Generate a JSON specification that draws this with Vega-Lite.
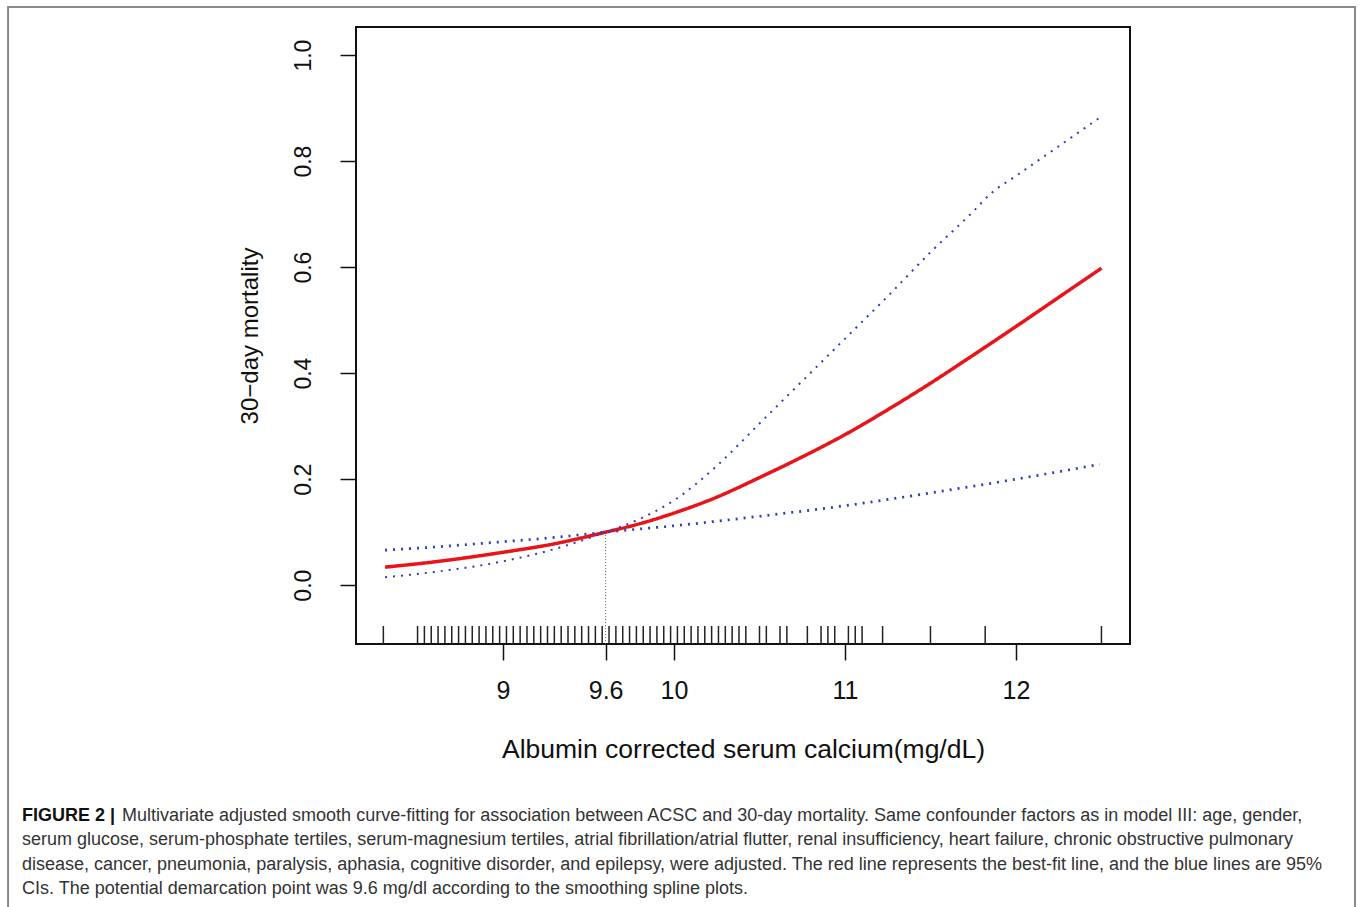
{
  "$schema": "https://vega.github.io/schema/vega-lite/v6.json",
  "width": 774,
  "height": 617,
  "autosize": {"type": "none"},
  "padding": {"left": 356, "top": 27, "right": 230, "bottom": 263},
  "background": "white",
  "config": {
    "view": {"stroke": "#111111", "strokeWidth": 2},
    "axis": {
      "domain": false,
      "grid": false,
      "tickColor": "#111111",
      "tickWidth": 1.5,
      "tickSize": 16,
      "labelFont": "Liberation Sans",
      "labelFontSize": 23,
      "labelColor": "#111111",
      "titleFont": "Liberation Sans",
      "titleFontSize": 24,
      "titleFontWeight": "normal",
      "titleColor": "#111111"
    }
  },
  "title": {
    "text": "FIGURE 2 |",
    "subtitle": [
      "\u200b\u00a0\u00a0\u00a0\u00a0\u00a0\u00a0\u00a0\u00a0\u00a0\u00a0\u00a0\u00a0\u00a0\u00a0\u00a0\u00a0\u00a0\u00a0\u00a0\u00a0Multivariate adjusted smooth curve-fitting for association between ACSC and 30-day mortality. Same confounder factors as in model III: age, gender,",
      "serum glucose, serum-phosphate tertiles, serum-magnesium tertiles, atrial fibrillation/atrial flutter, renal insufficiency, heart failure, chronic obstructive pulmonary",
      "disease, cancer, pneumonia, paralysis, aphasia, cognitive disorder, and epilepsy, were adjusted. The red line represents the best-fit line, and the blue lines are 95%",
      "CIs. The potential demarcation point was 9.6 mg/dl according to the smoothing spline plots."
    ],
    "orient": "bottom",
    "anchor": "start",
    "frame": "group",
    "dx": -334,
    "offset": -109,
    "font": "Liberation Sans",
    "fontSize": 18,
    "fontWeight": "bold",
    "color": "#111111",
    "subtitleFont": "Liberation Sans",
    "subtitleFontSize": 18,
    "subtitleColor": "#333333",
    "subtitleLineHeight": 24.5,
    "subtitlePadding": -18
  },
  "datasets": {
    "curves": [
      {"x": 8.31, "y": 0.034, "series": "fit"},
      {"x": 8.6, "y": 0.044, "series": "fit"},
      {"x": 9.0, "y": 0.062, "series": "fit"},
      {"x": 9.3, "y": 0.078, "series": "fit"},
      {"x": 9.6, "y": 0.1, "series": "fit"},
      {"x": 9.8, "y": 0.116, "series": "fit"},
      {"x": 10.0, "y": 0.136, "series": "fit"},
      {"x": 10.25, "y": 0.166, "series": "fit"},
      {"x": 10.5, "y": 0.203, "series": "fit"},
      {"x": 10.75, "y": 0.242, "series": "fit"},
      {"x": 11.0, "y": 0.284, "series": "fit"},
      {"x": 11.25, "y": 0.331, "series": "fit"},
      {"x": 11.5, "y": 0.381, "series": "fit"},
      {"x": 11.75, "y": 0.434, "series": "fit"},
      {"x": 12.0, "y": 0.488, "series": "fit"},
      {"x": 12.25, "y": 0.543, "series": "fit"},
      {"x": 12.5, "y": 0.598, "series": "fit"},
      {"x": 8.31, "y": 0.066, "series": "ci_a"},
      {"x": 8.6, "y": 0.072, "series": "ci_a"},
      {"x": 9.0, "y": 0.082, "series": "ci_a"},
      {"x": 9.3, "y": 0.09, "series": "ci_a"},
      {"x": 9.6, "y": 0.1, "series": "ci_a"},
      {"x": 9.8, "y": 0.106, "series": "ci_a"},
      {"x": 10.0, "y": 0.112, "series": "ci_a"},
      {"x": 10.5, "y": 0.13, "series": "ci_a"},
      {"x": 11.0, "y": 0.15, "series": "ci_a"},
      {"x": 11.5, "y": 0.174, "series": "ci_a"},
      {"x": 12.0, "y": 0.2, "series": "ci_a"},
      {"x": 12.49, "y": 0.228, "series": "ci_a"},
      {"x": 8.31, "y": 0.015, "series": "ci_b"},
      {"x": 8.6, "y": 0.025, "series": "ci_b"},
      {"x": 9.0, "y": 0.045, "series": "ci_b"},
      {"x": 9.3, "y": 0.068, "series": "ci_b"},
      {"x": 9.6, "y": 0.1, "series": "ci_b"},
      {"x": 9.8, "y": 0.125, "series": "ci_b"},
      {"x": 10.0, "y": 0.16, "series": "ci_b"},
      {"x": 10.25, "y": 0.225, "series": "ci_b"},
      {"x": 10.5, "y": 0.305, "series": "ci_b"},
      {"x": 10.75, "y": 0.385, "series": "ci_b"},
      {"x": 11.0, "y": 0.465, "series": "ci_b"},
      {"x": 11.25, "y": 0.545, "series": "ci_b"},
      {"x": 11.5, "y": 0.628, "series": "ci_b"},
      {"x": 11.75, "y": 0.705, "series": "ci_b"},
      {"x": 11.85, "y": 0.738, "series": "ci_b"},
      {"x": 12.0, "y": 0.772, "series": "ci_b"},
      {"x": 12.25, "y": 0.828, "series": "ci_b"},
      {"x": 12.49, "y": 0.882, "series": "ci_b"}
    ],
    "rug": [
      {"v": 8.30}, {"v": 8.50}, {"v": 8.54}, {"v": 8.58}, {"v": 8.62}, {"v": 8.66}, {"v": 8.70}, {"v": 8.74}, {"v": 8.78}, {"v": 8.82},
      {"v": 8.86}, {"v": 8.90}, {"v": 8.94}, {"v": 8.98}, {"v": 9.02}, {"v": 9.06}, {"v": 9.10}, {"v": 9.14}, {"v": 9.18}, {"v": 9.22},
      {"v": 9.26}, {"v": 9.30}, {"v": 9.34}, {"v": 9.38}, {"v": 9.42}, {"v": 9.46}, {"v": 9.50}, {"v": 9.54}, {"v": 9.58}, {"v": 9.62},
      {"v": 9.66}, {"v": 9.70}, {"v": 9.74}, {"v": 9.78}, {"v": 9.82}, {"v": 9.86}, {"v": 9.90}, {"v": 9.94}, {"v": 9.98}, {"v": 10.02},
      {"v": 10.06}, {"v": 10.10}, {"v": 10.14}, {"v": 10.18}, {"v": 10.22}, {"v": 10.26}, {"v": 10.30}, {"v": 10.34}, {"v": 10.38}, {"v": 10.42},
      {"v": 10.50}, {"v": 10.54}, {"v": 10.62}, {"v": 10.66}, {"v": 10.78}, {"v": 10.86}, {"v": 10.90}, {"v": 10.94}, {"v": 11.02}, {"v": 11.06},
      {"v": 11.10}, {"v": 11.22}, {"v": 11.50}, {"v": 11.82}, {"v": 12.50}
    ]
  },
  "layer": [
    {
      "data": {"values": [{"frame": "figure"}]},
      "mark": {"type": "rect", "fill": null, "stroke": "#8a8a8a", "strokeWidth": 2, "clip": false},
      "encoding": {
        "x": {"datum": 6.105},
        "x2": {"datum": 13.983},
        "y": {"datum": 1.0907},
        "y2": {"datum": -0.622}
      }
    },
    {
      "data": {"name": "rug"},
      "mark": {"type": "rule", "color": "#222222", "strokeWidth": 1.5},
      "encoding": {
        "x": {"field": "v", "type": "quantitative"},
        "y": {"datum": -0.111},
        "y2": {"datum": -0.077}
      }
    },
    {
      "data": {"values": [{"cut": 9.6, "top": 0.1}]},
      "mark": {"type": "rule", "color": "#555555", "strokeWidth": 1, "strokeDash": [1, 2]},
      "encoding": {
        "x": {"field": "cut", "type": "quantitative"},
        "y": {"field": "top", "type": "quantitative"},
        "y2": {"datum": -0.111}
      }
    },
    {
      "data": {"name": "curves"},
      "mark": {"type": "line", "interpolate": "monotone", "clip": true},
      "encoding": {
        "x": {
          "field": "x",
          "type": "quantitative",
          "scale": {"domain": [8.14, 12.667], "nice": false, "zero": false},
          "axis": {
            "values": [9, 9.6, 10, 11, 12],
            "format": "~g",
            "labelFontSize": 25,
            "labelBaseline": "alphabetic",
            "labelPadding": 38,
            "title": "Albumin corrected serum calcium(mg/dL)",
            "titleFontSize": 26.5,
            "titleBaseline": "alphabetic",
            "titleY": 113
          }
        },
        "y": {
          "field": "y",
          "type": "quantitative",
          "scale": {"domain": [-0.111, 1.053], "nice": false, "zero": false},
          "axis": {
            "values": [0, 0.2, 0.4, 0.6, 0.8, 1.0],
            "format": ".1f",
            "labelAngle": -90,
            "labelAlign": "center",
            "labelBaseline": "alphabetic",
            "labelPadding": 30,
            "title": "30−day mortality",
            "titleAngle": -90,
            "titleAlign": "center",
            "titleBaseline": "alphabetic",
            "titleX": -99
          }
        },
        "detail": {"field": "series"},
        "color": {
          "field": "series",
          "type": "nominal",
          "scale": {"domain": ["fit", "ci_a", "ci_b"], "range": ["#e8141a", "#2f3fb0", "#2f3fb0"]},
          "legend": null
        },
        "strokeDash": {
          "field": "series",
          "type": "nominal",
          "scale": {"domain": ["fit", "ci_a", "ci_b"], "range": [[1, 0], [2, 6], [2, 6]]},
          "legend": null
        },
        "strokeWidth": {
          "field": "series",
          "type": "nominal",
          "scale": {"domain": ["fit", "ci_a", "ci_b"], "range": [3.5, 2, 2]},
          "legend": null
        }
      }
    }
  ]
}
